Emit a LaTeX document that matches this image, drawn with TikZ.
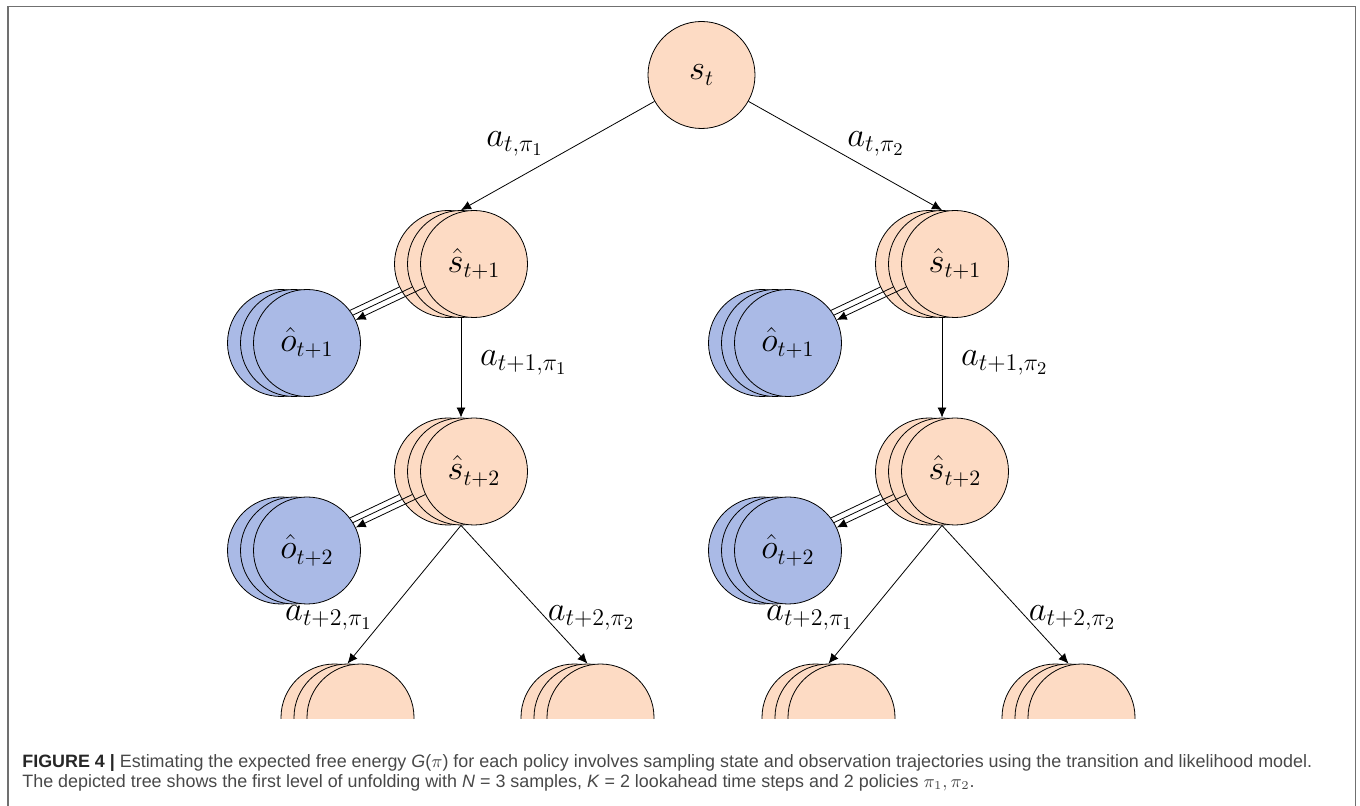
\documentclass[tikz,border=0pt]{standalone}
\usepackage{amsmath, amssymb}
\usepackage{fontspec}
\setsansfont{Liberation Sans}
\usetikzlibrary{arrows.meta}

\definecolor{statefill}{RGB}{253,219,196}
\definecolor{obsfill}{RGB}{170,186,230}
\definecolor{framegray}{RGB}{112,112,112}
\definecolor{captiongray}{RGB}{72,72,72}

\pgfdeclarelayer{front}
\pgfsetlayers{main,front}

\tikzset{
  state/.style={circle, draw, fill=statefill, minimum size=53.5pt, inner sep=0pt,
    font=\fontsize{16}{19}\selectfont},
  obs/.style={state, fill=obsfill},
  arr/.style={-{Latex[length=5pt,width=4.5pt]}},
  act/.style={font=\fontsize{18.5}{22}\selectfont},
  caption/.style={anchor=base west, inner sep=0pt, text=captiongray,
    font=\sffamily\fontsize{8.95}{11}\selectfont},
}

\begin{document}
\begin{tikzpicture}[x=0.5pt, y=-0.5pt]
    \useasboundingbox (0,0) rectangle (1360,806);
    \draw[framegray, line width=0.75pt] (8,806) -- (8,6.5) -- (1355.5,6.5) -- (1355.5,806);

    \begin{scope}
    \clip (0,0) rectangle (1360,718);
    \node[state] (st) at (701.5,75) {$s_t$};
    % three samples per state, back to front
    \foreach \side/\x in {L/461, R/942} {
        \foreach \n/\dx in {a/-13, b/0} {
            \node[state] (s1\side\n) at (\x+\dx,264) {};
            \node[state] (s2\side\n) at (\x+\dx,471.5) {};
            \begin{pgfonlayer}{front}
            \node[obs] (o1\side\n) at (\x-167+\dx,343) {};
            \node[obs] (o2\side\n) at (\x-167+\dx,550.5) {};
            \end{pgfonlayer}
        }
        \node[state] (s1\side c) at (\x+13,264) {$\hat{s}_{t+1}$};
        \node[state] (s2\side c) at (\x+13,471.5) {$\hat{s}_{t+2}$};
        \begin{pgfonlayer}{front}
        \node[obs] (o1\side c) at (\x-154,343) {$\hat{o}_{t+1}$};
        \node[obs] (o2\side c) at (\x-154,550.5) {$\hat{o}_{t+2}$};
        \end{pgfonlayer}
        \foreach \m/\bx in {1/-113.5, 2/126.5} {
            \foreach \n/\dx in {a/-13, b/0, c/13}
                \node[state] (s3\side\m\n) at (\x+\bx+\dx,717.5) {};
        }
        % likelihood model
        \foreach \lv in {1,2} {
            \draw (s\lv\side a) -- (o\lv\side a);
            \draw (s\lv\side b) -- (o\lv\side b);
            \draw[arr] (s\lv\side c) -- (o\lv\side c);
        }
    }

    % transition model
    \draw[arr] (st) -- (s1Lb.north) node[act, pos=0.536, anchor=base east, yshift=6.5pt] {$a_{t,\pi_1}$};
    \draw[arr] (st) -- (s1Rb.north) node[act, pos=0.474, anchor=base west, yshift=3.3pt] {$a_{t,\pi_2}$};
    \foreach \side/\p in {L/1, R/2} {
        \draw[arr] (s1\side b.south) -- (s2\side b.north)
            node[act, pos=0.48, anchor=base west, xshift=6pt] {$a_{t+1,\pi_\p}$};
        \draw[arr] (s2\side b.south) -- (s3\side 1b.north)
            node[act, pos=0.69, anchor=base east, xshift=-1.5pt] {$a_{t+2,\pi_1}$};
        \draw[arr] (s2\side b.south) -- (s3\side 2b.north)
            node[act, pos=0.69, anchor=base west, xshift=-3.8pt] {$a_{t+2,\pi_2}$};
    }
    \end{scope}

    \node[caption] (cap1) at (22,767) {\textcolor{black!85}{\textbf{FIGURE 4 |}} Estimating the expected free energy \textit{G}($\pi$) for each policy involves sampling state and observation trajectories using the transition and likelihood model.};
    \node[caption] (cap2) at (22,787) {The depicted tree shows the first level of unfolding with \textit{N} = 3 samples, \textit{K} = 2 lookahead time steps and 2 policies $\pi_1, \pi_2$.};
\end{tikzpicture}
\end{document}
